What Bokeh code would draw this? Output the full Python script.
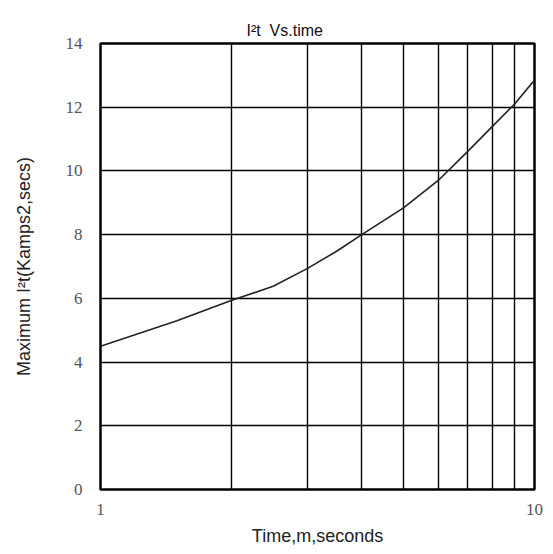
from bokeh.plotting import figure
from bokeh.models import Range1d, FixedTicker, PrintfTickFormatter, Title
from bokeh.embed import file_html
from bokeh.resources import INLINE

time_s = [1, 1.5, 2, 2.5, 3, 3.5, 4, 5, 6, 7, 8, 9, 10]
i2t = [4.5, 5.3, 5.93, 6.38, 6.94, 7.48, 8.0, 8.85, 9.7, 10.6, 11.4, 12.1, 12.85]
x_tick_labels = [1, 10]
x_grid_ticks = [1, 2, 3, 4, 5, 6, 7, 8, 9, 10]
y_ticks = [0, 2, 4, 6, 8, 10, 12, 14]
x_min, x_max = 1, 10
y_min, y_max = 0, 14

p = figure(width=545, height=552, x_axis_type="log",
           x_range=Range1d(x_min, x_max), y_range=Range1d(y_min, y_max),
           output_backend="svg", toolbar_location=None,
           min_border_left=100, min_border_right=11,
           min_border_top=43, min_border_bottom=63)

p.add_layout(Title(text="I\u00b2t \u00a0Vs.time", align="left", offset=146,
                   vertical_align="top", standoff=5,
                   text_font="Liberation Sans", text_font_size="16px",
                   text_font_style="normal", text_color="#111111"), "above")

p.line(time_s, i2t, line_color="#222222", line_width=1.6)

p.xaxis.ticker = FixedTicker(ticks=x_tick_labels)
p.xaxis.formatter = PrintfTickFormatter(format="%d")
p.yaxis.ticker = FixedTicker(ticks=y_ticks)
p.xgrid.ticker = FixedTicker(ticks=x_grid_ticks)
p.ygrid.ticker = FixedTicker(ticks=y_ticks)

for g in (p.xgrid, p.ygrid):
    g.grid_line_color = "black"
    g.grid_line_width = 1.4
    g.grid_line_alpha = 1.0

for ax in (p.xaxis, p.yaxis):
    ax.axis_line_color = None
    ax.major_tick_line_color = None
    ax.minor_tick_line_color = None
    ax.major_tick_out = 0
    ax.major_tick_in = 0
    ax.minor_tick_out = 0
    ax.minor_tick_in = 0
    ax.major_label_text_font = "Liberation Serif"
    ax.major_label_text_font_size = "17px"
    ax.major_label_text_color = "#555555"
    ax.axis_label_text_font = "Liberation Sans"
    ax.axis_label_text_font_size = "18px"
    ax.axis_label_text_font_style = "normal"
    ax.axis_label_text_color = "#222222"

p.xaxis.axis_label = "Time,m,seconds"
p.yaxis.axis_label = "Maximum I\u00b2t(Kamps2,secs)"
p.yaxis.major_label_standoff = 18
p.xaxis.major_label_standoff = 14
p.yaxis.axis_label_standoff = 29
p.xaxis.axis_label_standoff = 8

p.outline_line_color = "black"
p.outline_line_width = 2.5
p.outline_line_alpha = 1.0
p.background_fill_color = "white"
p.border_fill_color = "white"

open("out.html", "w").write(file_html(p, INLINE))
